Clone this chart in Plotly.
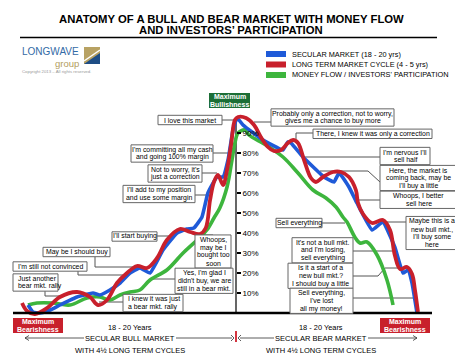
import plotly.graph_objects as go

# The page body has an 8px margin, so the figure is 16px smaller than the window
OFF = 8
FW, FH = 455, 350
FONT = "Liberation Sans"

# ---------------- data (time in years, value in % of max) ----------------
red_t = [0.19, 0.65, 1.39, 2.5, 3.7, 5.28, 6.48, 7.22, 8.06, 8.98, 9.91, 10.83, 11.76, 12.69, 13.6,
         14.8, 15.74, 16.67, 17.2, 17.6, 17.96, 18.33, 18.8, 19.17, 19.54, 19.9, 20.19, 20.93, 21.67,
         22.3, 22.96, 23.5, 24.17, 24.8, 25.28, 25.74, 26.3, 26.94, 27.4, 28.06, 28.98, 29.72, 30.46,
         31.1, 31.3, 31.76, 32.6, 33.6, 34.26, 34.7, 35.19, 35.83, 36.3, 36.57, 36.85]
red_v = [5.0, 1.0, -0.5, 2.5, 8.0, 10.5, 8.0, 4.0, 6.5, 15.0, 20.0, 23.5, 22.5, 27.5, 36.5,
         42.0, 40.5, 39.5, 42.5, 56.5, 65.5, 69.0, 64.0, 71.5, 84.0, 96.5, 98.0, 97.5, 94.0,
         88.0, 83.0, 81.0, 81.5, 85.0, 86.5, 85.0, 76.5, 67.5, 65.5, 68.0, 70.5, 70.5, 68.0,
         61.5, 55.0, 49.5, 45.0, 46.5, 41.5, 29.0, 22.0, 23.0, 19.5, 11.5, 0.5]

blue_t = [0.74, 1.2, 1.85, 2.78, 3.7, 5.28, 6.76, 7.4, 8.33, 9.26, 10.19, 11.1, 12.04, 13.24, 14.54,
          15.46, 16.1, 16.85, 17.4, 18.24, 18.8, 19.26, 19.72, 20.1, 20.65, 22.5, 24.35, 24.8, 25.09,
          26.2, 28.15, 29.07, 29.54, 30.46, 31.2, 32.6, 33.6, 34.7, 35.46, 35.93, 36.3, 36.76]
blue_v = [4.0, 0.5, 0.0, 1.5, 4.0, 8.0, 10.0, 9.0, 11.5, 15.0, 20.0, 22.5, 20.0, 31.5, 40.0,
          42.0, 42.5, 48.0, 60.0, 68.0, 68.0, 76.5, 91.5, 97.5, 94.0, 86.5, 81.5, 85.5, 85.0,
          78.0, 68.0, 65.5, 70.0, 63.0, 55.0, 41.5, 45.5, 33.0, 20.0, 21.5, 15.0, 0.0]

green_t = [0.74, 1.57, 3.06, 4.63, 6.2, 7.4, 8.33, 9.26, 10.19, 11.1, 12.04, 13.6, 15.1, 16.4, 17.3,
           17.96, 18.5, 19.17, 19.63, 19.9, 20.19, 20.83, 21.2, 22.78, 24.35, 25.74, 27.13, 28.33,
           29.26, 29.9, 30.28, 31.0, 31.48, 32.13, 33.06, 33.98, 34.54]
green_v = [4.0, 5.0, 5.0, 4.0, 7.5, 8.0, 6.5, 9.0, 10.5, 11.5, 16.5, 21.5, 30.0, 36.5, 41.5,
           47.5, 52.5, 63.0, 76.5, 85.0, 90.0, 91.5, 89.0, 84.0, 78.0, 70.0, 61.5, 57.5,
           53.0, 48.0, 45.5, 38.0, 35.0, 35.5, 29.0, 16.5, 4.0]

tick_vals = [10, 20, 30, 40, 50, 60, 70, 80, 90]
tick_text = ["10%", "20%", "30%", "40%", "50%", "60%", "70%", "80%", "90%"]

series_names = ["SECULAR MARKET (18 - 20 yrs)", "LONG TERM MARKET CYCLE (4 - 5 yrs)",
                "MONEY FLOW / INVESTORS' PARTICIPATION"]

# ---------------- styling / layout helpers ----------------
BLUE, RED, GREEN = "#1f5ad8", "#c8202c", "#3db53d"
AXIS_T = 20          # the year where the % axis sits
X_RANGE = [(OFF - 20) / 10.8, (OFF + FW - 20) / 10.8]
Y_RANGE = [(313 - (OFF + FH)) / 2, (313 - OFF) / 2]
LS = 7.9             # line spacing inside comment boxes
TS = 6.9             # comment text size


def px(x):
    return (x - OFF) / FW


def py(y):
    return 1 - (y - OFF) / FH


fig = go.Figure()
fig.add_trace(go.Scatter(x=green_t, y=green_v, mode="lines", name=series_names[2],
                         line=dict(color=GREEN, width=3.6, shape="spline", smoothing=1.0)))
fig.add_trace(go.Scatter(x=blue_t, y=blue_v, mode="lines", name=series_names[0],
                         line=dict(color=BLUE, width=3.6, shape="spline", smoothing=0.35)))
fig.add_trace(go.Scatter(x=red_t, y=red_v, mode="lines", name=series_names[1],
                         line=dict(color=RED, width=3.8, shape="spline", smoothing=1.0)))

shapes = []
annots = []


def pline(points, color="#555555", width=1, layer="below"):
    d = "M " + " L ".join(f"{px(a)},{py(b)}" for a, b in points)
    shapes.append(dict(type="path", path=d, xref="paper", yref="paper",
                       line=dict(color=color, width=width), layer=layer))


def text(x, y, s, size=TS, color="black", bold=False, xanchor="center"):
    if bold:
        s = "<b>" + s + "</b>"
    annots.append(dict(x=px(x), y=py(y), xref="paper", yref="paper", text=s, showarrow=False,
                       xanchor=xanchor, yanchor="middle",
                       font=dict(family=FONT, size=size, color=color)))


def box(x0, x1, cy, lines, size=TS, ls=LS, fill="white", border="#666666",
        color="black", bold=False, align="center", h=None):
    n = len(lines)
    if h is None:
        h = n * ls + 1.5
    y0, y1 = cy - h / 2, cy + h / 2
    shapes.append(dict(type="rect", xref="paper", yref="paper", x0=px(x0), x1=px(x1),
                       y0=py(y1), y1=py(y0), fillcolor=fill,
                       line=dict(color=border, width=1 if border else 0), layer="above"))
    for i, s in enumerate(lines):
        yy = cy + (i - (n - 1) / 2) * ls
        if align == "left":
            text(x0 + 2.5, yy, s, size=size, color=color, bold=bold, xanchor="left")
        else:
            text((x0 + x1) / 2, yy, s, size=size, color=color, bold=bold)


# title
text(231, 18.5, "ANATOMY OF A BULL AND BEAR MARKET WITH MONEY FLOW", size=11.3, bold=True)
text(231, 30, "AND INVESTORS\u2019 PARTICIPATION", size=11.3, bold=True)
pline([(20, 37.5), (437, 37.5)], color="black", width=1.6, layer="above")

# logo
text(20, 52, "LONGWAVE", size=10, color="#336aa6", xanchor="left")
text(53, 63.5, "group", size=9.5, color="#b39d5e", xanchor="left")
text(20, 71.5, "Copyright 2013 \u2013 All rights reserved.", size=4.3, color="#999999", xanchor="left")
shapes.append(dict(type="rect", xref="paper", yref="paper", x0=px(84), x1=px(100), y0=py(64), y1=py(47),
                   fillcolor="#b8a263", line=dict(width=0)))
shapes.append(dict(type="path", xref="paper", yref="paper",
                   path=f"M {px(84)},{py(64)} L {px(100)},{py(53)} L {px(100)},{py(64)} Z",
                   fillcolor="#1e4d85", line=dict(width=0)))
pline([(84, 61), (100, 50)], color="white", width=1.5, layer="above")

# legend
for i, (c, yy) in enumerate(zip([BLUE, RED, GREEN], [54, 64.5, 75])):
    shapes.append(dict(type="rect", xref="paper", yref="paper", x0=px(266), x1=px(286),
                       y0=py(yy + 3), y1=py(yy - 3), fillcolor=c, line=dict(width=0)))
    text(290, yy, series_names[i], size=7.35, xanchor="left")

# axes lines
shapes.append(dict(type="line", xref="x", yref="y", x0=AXIS_T, x1=AXIS_T, y0=0, y1=98,
                   line=dict(color="black", width=1.2), layer="below"))
shapes.append(dict(type="line", xref="x", yref="y", x0=(13 - 20) / 10.8, x1=(432 - 20) / 10.8, y0=0, y1=0,
                   line=dict(color="black", width=2.6), layer="above"))

# max bull / bear boxes
box(209, 250, 100.5, ["Maximum", "Bullishness"], size=7, ls=7.2, fill="#1c6e36", border=None,
    color="white", bold=True, h=15)
for x0 in (13, 380):
    box(x0, x0 + 50, 325.5, ["Maximum", "Bearishness"], size=7, ls=7.2, fill="#c8202c", border=None,
        color="white", bold=True, h=15)

# bottom captions
text(130, 327.5, "18 - 20 Years", size=7.4)
text(130, 338.5, "SECULAR BULL MARKET", size=7.5)
text(130, 350, "WITH 4\u00bd LONG TERM CYCLES", size=7.5)
text(321, 327.5, "18 - 20 Years", size=7.4)
text(321, 338.5, "SECULAR BEAR MARKET", size=7.5)
text(321, 350, "WITH 4\u00bd LONG TERM CYCLES", size=7.5)
pline([(25, 338), (84, 338)], color="#333333", width=0.8)
pline([(29, 335.5), (25, 338), (29, 340.5)], color="#333333", width=0.8)
pline([(176, 338), (232, 338)], color="#333333", width=0.8)
pline([(240, 338), (274, 338)], color="#333333", width=0.8)
pline([(368, 338), (417, 338)], color="#333333", width=0.8)
pline([(413, 335.5), (417, 338), (413, 340.5)], color="#333333", width=0.8)
pline([(231, 335), (234, 338), (231, 341)], color="#333333", width=0.8)
pline([(241, 335), (238, 338), (241, 341)], color="#333333", width=0.8)
pline([(236, 331), (236, 342)], color="#d0202c", width=1.8, layer="above")

# comment boxes with pointer lines (left half)
pline([(222, 120), (234, 120)])
box(158, 222, 120, ["I love this market"])
pline([(213, 153), (231, 153)])
box(131, 213, 153.5, ["I'm committing all my cash", "and going 100% margin"])
pline([(202, 173), (217, 173)])
box(148, 202, 173.5, ["Not to worry, it's", "just a correction"])
pline([(195, 195), (208, 195)])
box(123, 195, 194, ["I'll add to my position", "and use some margin"])
pline([(157, 236), (172, 236)])
box(112, 157, 236.5, ["I'll start buying"])
pline([(95, 257), (95, 267), (134, 267)])
box(43, 110, 252, ["May be I should buy"])
pline([(78, 270), (78, 275), (128, 275)])
box(13, 87, 266.5, ["I'm still not convinced"])
pline([(45, 290), (45, 296), (62, 296)])
box(13, 58, 282.5, ["Just another", "bear mkt. rally"], align="left")
pline([(123, 302), (99, 302)])
box(123, 183, 303, ["I knew it was just", "a bear mkt. rally"], align="left")
pline([(198, 235), (213, 235), (213, 238)])
box(195, 231, 251.5, ["Whoops,", "may be I", "bought too", "soon"])
pline([(175, 279), (150, 279)])
box(175, 233, 280.8, ["Yes, I'm glad I", "didn't buy, we are", "still in a bear mkt."])

# right half
pline([(271, 122), (254, 122)])
box(271, 394, 117.5, ["Probably only a correction, not to worry,", "gives me a chance to buy more"])
pline([(313, 133), (296, 133), (296, 139)])
box(313, 432, 133.8, ["There, I knew it was only a correction"])
pline([(380, 157), (304, 157)])
box(380, 430, 156, ["I'm nervous I'll", "sell half"])
pline([(380, 182), (368, 171), (320, 171)])
box(380, 457, 178, ["Here, the market is", "coming back, may be", "I'll buy a little"])
pline([(380, 200), (356, 200)])
box(380, 457, 199.8, ["Whoops, I better", "sell here"])
pline([(406, 222), (383, 222)])
box(406, 457, 233, ["Maybe this is a", "new bull mkt.,", "I'll buy some", "here"])
pline([(322, 223), (345, 223)])
box(276, 322, 223, ["Sell everything"])
pline([(353, 251), (392, 251)])
box(292, 353, 250.3, ["It's not a bull mkt.", "and I'm losing,", "sell everything"])
pline([(353, 276), (378, 276), (385, 268), (407, 268)])
box(288, 353, 275.8, ["Is it a start of a", "new bull mkt.?", "I should buy a little"])
pline([(353, 298), (413, 298)])
box(290, 353, 300.8, ["Sell everything,", "I've lost", "all my money!"])

fig.update_layout(
    width=FW, height=FH, margin=dict(l=0, r=0, t=0, b=0),
    paper_bgcolor="white", plot_bgcolor="white", showlegend=False,
    font=dict(family=FONT),
    xaxis=dict(range=X_RANGE, visible=False, fixedrange=True),
    yaxis=dict(range=Y_RANGE, anchor="free", position=(236 - OFF) / FW, side="right",
               tickvals=tick_vals, ticktext=tick_text, ticks="outside", ticklen=4, tickwidth=2,
               tickcolor="black", showgrid=False, zeroline=False, showline=False,
               tickfont=dict(family=FONT, size=8, color="black"), fixedrange=True),
    shapes=shapes, annotations=annots,
)

fig.write_html("out.html")
